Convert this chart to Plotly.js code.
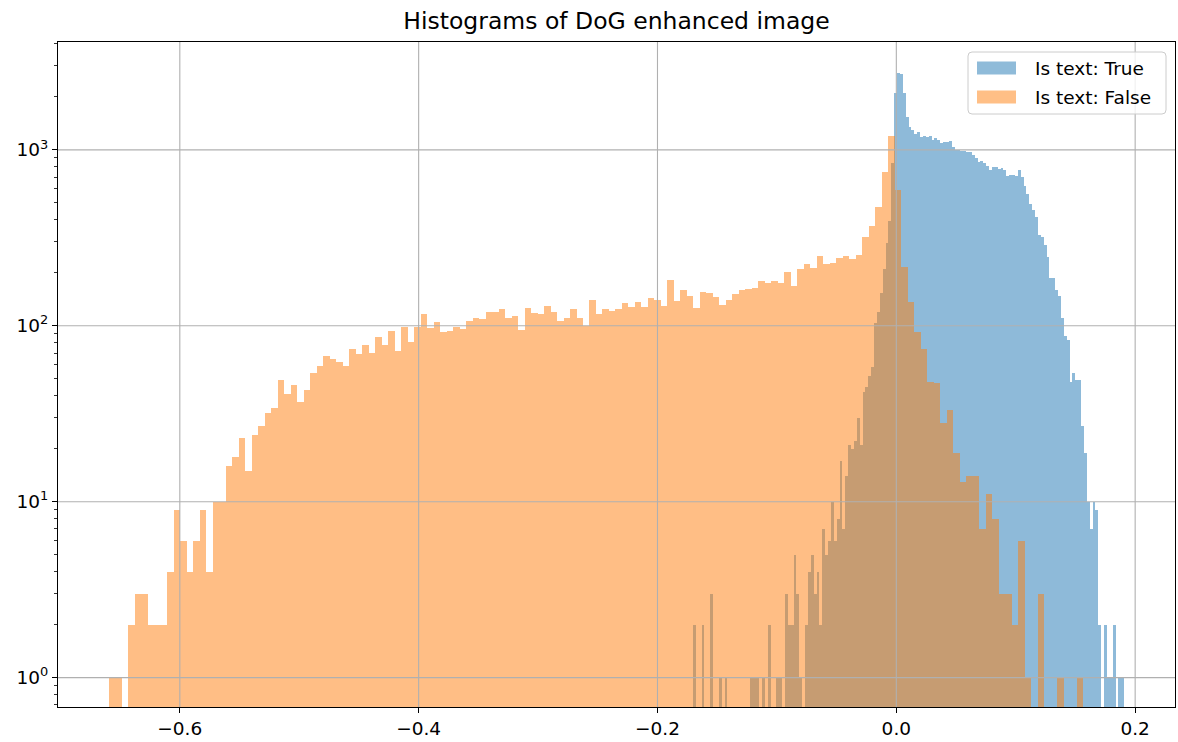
<!DOCTYPE html>
<html>
<head>
<meta charset="utf-8">
<script src="https://cdn.plot.ly/plotly-3.0.1.min.js"></script>
<style>
html,body{margin:0;padding:0;background:#fff;}
#chart{width:1178px;height:742px;}
#chart .barlayer path{shape-rendering:crispEdges !important;}
</style>
</head>
<body>
<div id="chart"></div>
<script>
// Histogram bin layout (150 bins each)
const trueBinStart = -0.17028;
const trueBinWidth = 0.0024075;
const falseBinStart = -0.65948;
const falseBinWidth = 0.0054398;

// Counts per bin, "Is text: True"
const trueCounts = [
  2,0,0,2,0,0,3,0,0,1, 0,1,0,0,0,0,0,0,0,0,
  1,1,1,0,1,0,2,0,0,1, 1,0,3,2,2,5,3,1,0,2,
  4,5,3,4,2,7,5,6,10,6, 8,17,7,14,21,20,22,30,21,42,
  45,52,58,104,119,153,211,295,395,840, 2100,2750,2700,2100,1546,1357,1300,1233,1271,1180,
  1200,1190,1200,1140,1165,1140,1091,1105,1115,1120, 1035,1000,1000,991,987,978,978,937,893,858,
  862,840,811,770,797,794,777,787,770,712, 721,721,712,770,700,619,560,491,454,416,
  327,318,287,247,187,187,160,148,110,87, 83,48,54,49,49,27,19,10,7,10,
  9,2,0,2,1,1,2,0,1,1
];

// Counts per bin, "Is text: False"
const falseCounts = [
  1,1,0,2,3,3,2,2,2,4, 9,6,4,6,9,4,10,10,16,18,
  23,15,24,27,32,34,49,41,46,37, 43,54,59,67,65,62,59,74,69,78,
  70,86,78,93,72,99,81,99,116,97, 105,92,94,98,96,106,110,109,119,119,
  125,110,113,95,126,118,116,130,119,106, 110,125,111,100,140,117,125,122,125,135,
  128,136,128,144,140,130,181,139,159,148, 127,156,154,146,132,140,151,159,162,164,
  179,176,179,175,201,168,211,224,213,248, 225,227,243,250,241,254,319,370,472,750,
  1206,588,215,137,92,74,48,47,28,33, 19,13,14,14,7,11,8,3,3,2,
  6,1,0,3,0,0,1,0,0,1
];

const seriesNames = ['Is text: True', 'Is text: False'];
const seriesColors = ['#1f77b4', '#ff7f0e'];
const xTickVals = [-0.6, -0.4, -0.2, 0.0, 0.2];
const xTickText = ['\u22120.6', '\u22120.4', '\u22120.2', '0.0', '0.2'];
const yTickVals = [1, 10, 100, 1000];
const yTickText = ['10<sup>0</sup>', '10<sup>1</sup>', '10<sup>2</sup>', '10<sup>3</sup>'];

const W = 1178, H = 742;
const M = {l: 58, r: 3, t: 42, b: 35};
const PW = W - M.l - M.r, PH = H - M.t - M.b;
const xRange = [-0.70200, 0.23336];
const yRangeLog = [-0.167, 3.613];
const FONT = 'DejaVu Sans, sans-serif';

function centers(start, width, n) {
  const c = [];
  for (let i = 0; i < n; i++) c.push(start + width * (i + 0.5));
  return c;
}
function clean(arr) { return arr.map(v => v > 0 ? v : null); }

const minorVals = [];
for (let e = -1; e <= 3; e++) for (let m = 2; m <= 9; m++) minorVals.push(m * Math.pow(10, e));

const traces = [
  {
    type: 'bar',
    name: seriesNames[0],
    x: centers(trueBinStart, trueBinWidth, trueCounts.length),
    y: clean(trueCounts),
    width: trueBinWidth,
    opacity: 0.5,
    marker: {color: seriesColors[0], line: {width: 0}},
    showlegend: false
  },
  {
    type: 'bar',
    name: seriesNames[1],
    x: centers(falseBinStart, falseBinWidth, falseCounts.length),
    y: clean(falseCounts),
    width: falseBinWidth,
    opacity: 0.5,
    marker: {color: seriesColors[1], line: {width: 0}},
    showlegend: false
  }
];

// grid lines drawn over the bars, as matplotlib does
const shapes = [];
xTickVals.forEach(v => shapes.push({
  type: 'line', xref: 'x', yref: 'paper', x0: v, x1: v, y0: 0, y1: 1,
  line: {color: '#b0b0b0', width: 1.1}, layer: 'above'
}));
yTickVals.forEach(v => {
  const py = (Math.log10(v) - yRangeLog[0]) / (yRangeLog[1] - yRangeLog[0]);
  shapes.push({
    type: 'line', xref: 'paper', yref: 'paper', x0: 0, x1: 1, y0: py, y1: py,
    line: {color: '#b0b0b0', width: 1.1}, layer: 'above'
  });
});

// legend (matplotlib style: wide patches, rounded frame)
const px2x = p => (p - M.l) / PW;
const py2y = p => (H - M.b - p) / PH;
const box = {x0: 968, x1: 1166, y0: 52, y1: 114, r: 4};
const rx = box.r / PW, ry = box.r / PH;
const bx0 = px2x(box.x0), bx1 = px2x(box.x1), by0 = py2y(box.y1), by1 = py2y(box.y0);
shapes.push({
  type: 'path', xref: 'paper', yref: 'paper', layer: 'above',
  path: `M${bx0 + rx},${by1} L${bx1 - rx},${by1} Q${bx1},${by1} ${bx1},${by1 - ry} ` +
        `L${bx1},${by0 + ry} Q${bx1},${by0} ${bx1 - rx},${by0} L${bx0 + rx},${by0} ` +
        `Q${bx0},${by0} ${bx0},${by0 + ry} L${bx0},${by1 - ry} Q${bx0},${by1} ${bx0 + rx},${by1} Z`,
  fillcolor: 'rgba(255,255,255,0.8)', line: {color: '#cccccc', width: 1}
});
const rowCenters = [68, 97];
const annotations = [];
seriesNames.forEach((name, k) => {
  const cy = rowCenters[k];
  shapes.push({
    type: 'rect', xref: 'paper', yref: 'paper', layer: 'above',
    x0: px2x(977), x1: px2x(1016), y0: py2y(cy + 6.5), y1: py2y(cy - 6.5),
    fillcolor: seriesColors[k], opacity: 0.5, line: {width: 0}
  });
  annotations.push({
    xref: 'paper', yref: 'paper', x: px2x(1033), y: py2y(cy),
    xanchor: 'left', yanchor: 'middle', showarrow: false,
    text: name, font: {family: FONT, size: 18.5, color: '#000000'}
  });
});

const layout = {
  width: W,
  height: H,
  margin: {l: M.l, r: M.r, t: M.t, b: M.b, pad: 0},
  paper_bgcolor: '#ffffff',
  plot_bgcolor: '#ffffff',
  barmode: 'overlay',
  font: {family: FONT, size: 18.5, color: '#000000'},
  title: {
    text: 'Histograms of DoG enhanced image',
    font: {family: FONT, size: 23.5, color: '#000000'},
    x: (M.l + W - M.r) / 2 / W, xanchor: 'center', xref: 'container',
    y: 1 - 21 / H, yanchor: 'middle', yref: 'container'
  },
  xaxis: {
    range: xRange,
    tickmode: 'array', tickvals: xTickVals, ticktext: xTickText,
    ticks: 'outside', ticklen: 5, tickwidth: 1, tickcolor: '#000000',
    showgrid: false,
    showline: true, linecolor: '#000000', linewidth: 1, mirror: true,
    zeroline: false,
    tickfont: {size: 18.5, family: FONT}
  },
  yaxis: {
    type: 'log',
    range: yRangeLog,
    tickmode: 'array', tickvals: yTickVals, ticktext: yTickText,
    ticks: 'outside', ticklen: 5, tickwidth: 1, tickcolor: '#000000',
    showgrid: false,
    showline: true, linecolor: '#000000', linewidth: 1, mirror: true,
    zeroline: false,
    tickfont: {size: 18.5, family: FONT},
    minor: {tickmode: 'array', tickvals: minorVals, ticks: 'outside', ticklen: 3, tickwidth: 0.8, tickcolor: '#000000', showgrid: false}
  },
  shapes: shapes,
  annotations: annotations,
  showlegend: false
};

Plotly.newPlot('chart', traces, layout, {displayModeBar: false, staticPlot: true});
</script>
</body>
</html>
